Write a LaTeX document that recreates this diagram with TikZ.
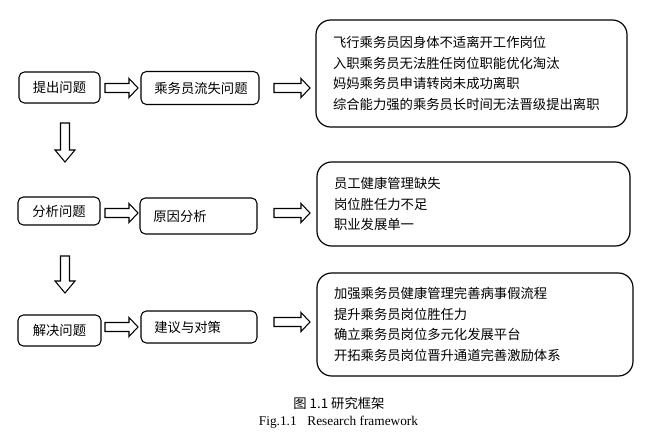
\documentclass[tikz,border=0pt]{standalone}
\usepackage{fontspec}
\setmainfont{Liberation Serif}
\newfontfamily\cjk{Noto Sans CJK SC}
\newcommand\myharr[3]{\draw[arr] (#1,#3) ++(0,-4.5) -- ++(#2-9,0) -- ++(0,-5) -- ++(9,9.5) -- ++(-9,9.5) -- ++(0,-5) -- ++(-#2+9,0) -- cycle;}
\newcommand\myvarr[3]{\draw[arr] (#1,#2) ++(-4.5,0) -- ++(0,#3-12) -- ++(-5.5,0) -- ++(10,12) -- ++(10,-12) -- ++(-5.5,0) -- ++(0,-#3+12) -- cycle;}
\begin{document}
\begin{tikzpicture}[x=0.75pt,y=-0.75pt,
  every node/.style={font=\cjk\fontsize{10}{15.5}\selectfont, text=black},
  sbox/.style={draw, line width=0.8pt, rounded corners=4pt, inner sep=0pt, align=center},
  qbox/.style={draw, line width=0.8pt, rounded corners=4pt, inner sep=0pt, inner xsep=10pt, align=left, text width=#1},
  bbox/.style={draw, line width=0.9pt, rounded corners=11pt, inner sep=0pt, inner xsep=12.75pt, align=left, text width=#1},
  arr/.style={draw, line width=0.8pt, fill=white}]
\useasboundingbox (0,0) rectangle (651,446);
% row 1
\node[sbox, minimum width=60.75pt, minimum height=23.25pt] (p1) at (59.5,87.5) {提出问题};
\node[qbox=68.5pt, minimum width=88.5pt, minimum height=24.75pt] (q1) at (200,88) {乘务员流失问题};
\node[bbox=207.75pt, minimum width=233.25pt, minimum height=80.25pt] (b1) at (471.5,73.5) {飞行乘务员因身体不适离开工作岗位\\入职乘务员无法胜任岗位职能优化淘汰\\妈妈乘务员申请转岗未成功离职\\综合能力强的乘务员长时间无法晋级提出离职};
% row 2
\node[sbox, minimum width=61.5pt, minimum height=21pt] (p2) at (59,211) {分析问题};
\node[qbox=67.75pt, minimum width=87.75pt, minimum height=27pt] (q2) at (198.5,216) {原因分析};
\node[bbox=209.25pt, minimum width=234.75pt, minimum height=63pt] (b2) at (473.5,204) {员工健康管理缺失\\岗位胜任力不足\\职业发展单一};
% row 3
\node[sbox, minimum width=62.25pt, minimum height=23.25pt] (p3) at (59.5,330.5) {解决问题};
\node[qbox=67pt, minimum width=87pt, minimum height=24pt] (q3) at (199,327) {建议与对策};
\node[bbox=211.5pt, minimum width=237pt, minimum height=77.25pt] (b3) at (475,324.5) {加强乘务员健康管理完善病事假流程\\提升乘务员岗位胜任力\\确立乘务员岗位多元化发展平台\\开拓乘务员岗位晋升通道完善激励体系};
% block arrows
\myharr{105}{33}{88}
\myharr{274}{36}{88}
\myharr{105}{33}{213}
\myharr{274}{36}{213}
\myharr{105}{33}{327}
\myharr{274}{36}{322}
\myvarr{65}{123}{39}
\myvarr{65}{256}{37}
% captions
\node (c1) at (339,403) {图 1.1 研究框架};
\node[font=\rmfamily\fontsize{10}{12}\selectfont] (c2) at (338.5,422) {Fig.1.1\hspace{8pt}Research framework};
\end{tikzpicture}
\end{document}
